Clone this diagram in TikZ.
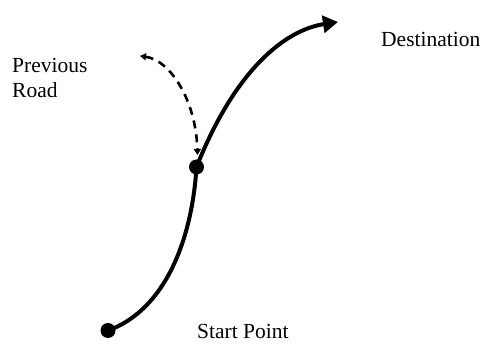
\documentclass[tikz,border=0pt]{standalone}
\usepackage{fontspec}
\setmainfont{Liberation Serif}
\usetikzlibrary{arrows.meta}
\begin{document}
\begin{tikzpicture}[x=1pt,y=-1pt,
  road/.style={line width=4pt},
  alt/.style={line width=2.6pt, dash pattern=on 8pt off 6pt, {Triangle[length=6pt,width=7pt]}-{Triangle[length=6pt,width=7pt]}},
  dot/.style={circle, fill=black, inner sep=0pt, minimum size=15pt},
  lbl/.style={font=\fontsize{21.5}{24}\selectfont, inner sep=0pt, anchor=base west}]
\useasboundingbox (0,0) rectangle (485,344);
\node[dot] (s) at (108,330.5) {};
\node[dot] (m) at (196.5,167) {};
\coordinate (d) at (338,22);
\coordinate (p) at (140,56);
\coordinate (mt) at (197.5,155);
\draw[road] (s.center) .. controls (165,310) and (192,240) .. (m.center);
\draw[road, -{Triangle[length=15pt,width=17pt]}] (m.center) .. controls (235,70) and (285,30) .. (d);
\draw[alt] (p) .. controls (170,60) and (196,100) .. (mt);
\node[lbl] (prev) at (12,73) {Previous};
\node[lbl] (road) at (12,98) {Road};
\node[lbl] (dest) at (381,47) {Destination};
\node[lbl] (start) at (197,339) {Start Point};
\end{tikzpicture}
\end{document}
